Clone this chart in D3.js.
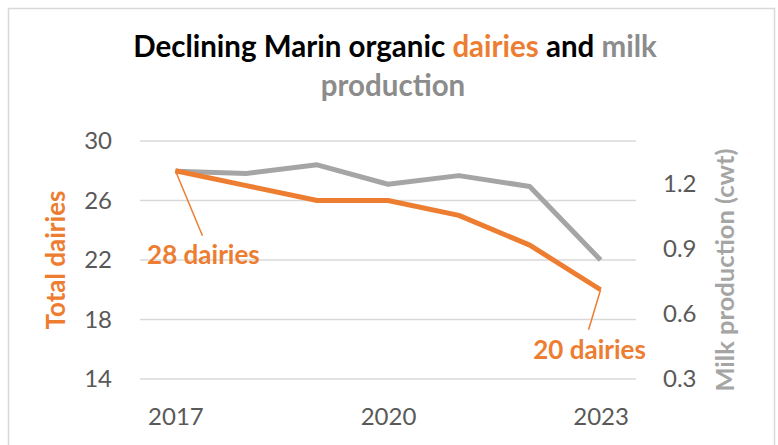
<!DOCTYPE html>
<html lang="en">
<head>
<meta charset="UTF-8">
<script src="https://d3js.org/d3.v7.min.js"></script>
<style>
    body { margin: 0; background: #fff; }
    svg { display: block; font-family: Lato, "Open Sans", sans-serif; }
</style>
</head>
<body>
<script>
    var years = [2017, 2018, 2019, 2020, 2021, 2022, 2023];
    var dairies = [28, 27, 26, 26, 25, 23, 20];
    var milk = [1.26, 1.25, 1.29, 1.20, 1.24, 1.19, 0.85];
    var yearTicks = [2017, 2020, 2023];
    var leftTicks = [14, 18, 22, 26, 30];
    var rightTicks = [0.3, 0.6, 0.9, 1.2];

    var width = 778, height = 445;
    var orange = '#ED7D31', gray = '#A5A5A5';
    var plot = { left: 140, right: 636, top: 141, bottom: 379 };

    var svg = d3.select('body').append('svg')
        .attr('width', width)
        .attr('height', height);

    svg.append('rect')
        .attr('x', 8.5).attr('y', 8.5)
        .attr('width', 766).attr('height', 460)
        .attr('fill', '#fff')
        .attr('stroke', '#D9D9D9')
        .attr('stroke-width', 1.5);

    var x = d3.scalePoint()
        .domain(years)
        .range([plot.left, plot.right])
        .padding(0.5);

    var yLeft = d3.scaleLinear()
        .domain([14, 30])
        .range([plot.bottom, plot.top]);

    var yRight = d3.scaleLinear()
        .domain([0.3, 1.4])
        .range([plot.bottom, plot.top]);

    // gridlines
    svg.append('g')
        .selectAll('line')
        .data(leftTicks)
        .enter()
        .append('line')
        .attr('x1', plot.left).attr('x2', plot.right)
        .attr('y1', d => yLeft(d)).attr('y2', d => yLeft(d))
        .attr('stroke', '#D9D9D9')
        .attr('stroke-width', 1.5);

    // axes
    var leftAxis = svg.append('g')
        .attr('transform', 'translate(' + (plot.left - 28) + ',0)')
        .call(d3.axisLeft(yLeft).tickValues(leftTicks).tickSize(0).tickPadding(0));

    var rightAxis = svg.append('g')
        .attr('transform', 'translate(' + (plot.right + 27) + ',0)')
        .call(d3.axisRight(yRight).tickValues(rightTicks).tickSize(0).tickPadding(0)
            .tickFormat(d3.format('.1f')));

    var bottomAxis = svg.append('g')
        .attr('transform', 'translate(0,' + (plot.bottom + 38) + ')')
        .call(d3.axisBottom(x).tickValues(yearTicks).tickSize(0).tickPadding(0));

    [leftAxis, rightAxis, bottomAxis].forEach(function(a) {
        a.select('.domain').remove();
        a.selectAll('text')
            .attr('font-family', 'Lato, sans-serif')
            .attr('font-size', '24px')
            .attr('fill', '#595959');
    });
    bottomAxis.selectAll('text').attr('dy', '0.32em');

    // lines
    var lineLeft = d3.line()
        .x((d, i) => x(years[i]))
        .y(d => yLeft(d));

    var lineRight = d3.line()
        .x((d, i) => x(years[i]))
        .y(d => yRight(d));

    svg.append('path')
        .datum(milk)
        .attr('d', lineRight)
        .attr('fill', 'none')
        .attr('stroke', gray)
        .attr('stroke-width', 5)
        .attr('stroke-linejoin', 'round');

    svg.append('path')
        .datum(dairies)
        .attr('d', lineLeft)
        .attr('fill', 'none')
        .attr('stroke', orange)
        .attr('stroke-width', 5)
        .attr('stroke-linejoin', 'round');

    // data labels with leader lines
    var first = { x: x(years[0]), y: yLeft(dairies[0]) };
    var last = { x: x(years[years.length - 1]), y: yLeft(dairies[dairies.length - 1]) };

    svg.append('line')
        .attr('x1', first.x).attr('y1', first.y)
        .attr('x2', first.x + 27).attr('y2', first.y + 65)
        .attr('stroke', orange).attr('stroke-width', 1.5);

    svg.append('text')
        .attr('x', first.x + 28).attr('y', first.y + 87)
        .attr('text-anchor', 'middle')
        .attr('dominant-baseline', 'middle')
        .attr('font-size', '26px').attr('font-weight', 'bold')
        .attr('fill', orange)
        .text(dairies[0] + ' dairies');

    svg.append('line')
        .attr('x1', last.x).attr('y1', last.y)
        .attr('x2', last.x - 12).attr('y2', last.y + 40)
        .attr('stroke', orange).attr('stroke-width', 1.5);

    svg.append('text')
        .attr('x', last.x - 11).attr('y', last.y + 63)
        .attr('text-anchor', 'middle')
        .attr('dominant-baseline', 'middle')
        .attr('font-size', '26px').attr('font-weight', 'bold')
        .attr('fill', orange)
        .text(dairies[dairies.length - 1] + ' dairies');

    // axis titles
    svg.append('text')
        .attr('transform', 'translate(58,' + (plot.top + plot.bottom) / 2 + ') rotate(-90)')
        .attr('text-anchor', 'middle')
        .attr('dominant-baseline', 'middle')
        .attr('font-size', '26px').attr('font-weight', 'bold')
        .attr('fill', orange)
        .text('Total dairies');

    svg.append('text')
        .attr('transform', 'translate(727,270) rotate(-90)')
        .attr('text-anchor', 'middle')
        .attr('dominant-baseline', 'middle')
        .attr('font-size', '25.5px').attr('font-weight', 'bold')
        .attr('fill', gray)
        .text('Milk production (cwt)');

    // title
    var title = svg.append('text')
        .attr('x', 395).attr('y', 49)
        .attr('text-anchor', 'middle')
        .attr('dominant-baseline', 'middle')
        .attr('font-size', '29.5px').attr('font-weight', 'bold')
        .attr('fill', '#000');
    title.append('tspan').text('Declining Marin organic ');
    title.append('tspan').attr('fill', orange).text('dairies');
    title.append('tspan').text(' and ');
    title.append('tspan').attr('fill', '#8C8C8C').text('milk');

    svg.append('text')
        .attr('x', 393).attr('y', 88)
        .attr('text-anchor', 'middle')
        .attr('dominant-baseline', 'middle')
        .attr('font-size', '29.5px').attr('font-weight', 'bold')
        .attr('fill', '#8C8C8C')
        .text('production');
</script>
</body>
</html>
